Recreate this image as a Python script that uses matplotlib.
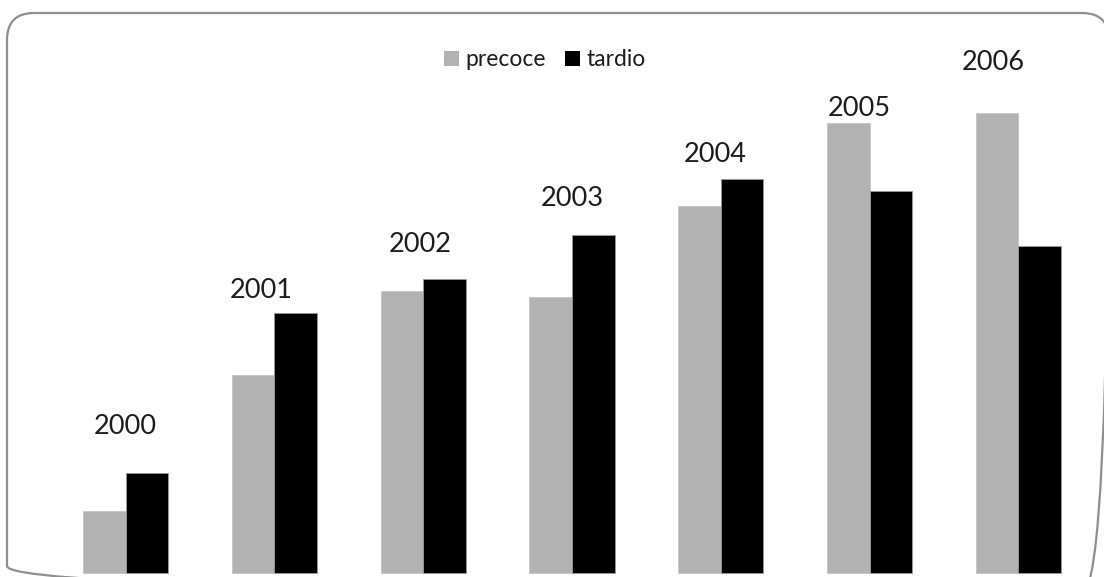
import matplotlib
matplotlib.use("Agg")
import matplotlib.pyplot as plt
from matplotlib.patches import FancyBboxPatch, Patch

# --- data -------------------------------------------------------------
years = ["2000", "2001", "2002", "2003", "2004", "2005", "2006"]
precoce = [62, 198, 282, 276, 367, 450, 460]
tardio = [100, 260, 294, 338, 394, 382, 327]

# --- styling / layout ---------------------------------------------------
W, H, DPI = 1104, 577, 100
GRAY = "#b2b2b2"
BLACK = "#000000"
TEXT = "#1c1c1c"
FONT = ["Lato", "DejaVu Sans"]
bar_w = 0.286

# year label placement (offset from group centre, height in value units)
label_dx = [0.0, -0.09, -0.02, 0.0, -0.04, -0.07, -0.17]
label_y = [147, 282, 329, 374, 419, 465, 511]

plt.rcParams["font.family"] = FONT

fig = plt.figure(figsize=(W / DPI, H / DPI), dpi=DPI)
fig.patch.set_facecolor("white")

ax = fig.add_axes([0, 0, 1, 1])
x = list(range(len(years)))
xp = [i - bar_w / 2 for i in x]
xt = [i + bar_w / 2 for i in x]
ax.bar(xp, precoce, width=bar_w, color=GRAY, edgecolor="#c4c4c4",
       linewidth=0.6, label="precoce", zorder=2)
ax.bar(xt, tardio, width=bar_w, color=BLACK, edgecolor="#9a9a9a",
       linewidth=0.6, label="tardio", zorder=2)

# group centre spacing of ~148.8 px, first group centred at ~125.7 px
step = 148.77
x0 = 125.7
ax.set_xlim(-x0 / step, (W - x0) / step)
ax.set_ylim(-4, H - 4)
ax.axis("off")

for i, yr in enumerate(years):
    ax.text(i + label_dx[i], label_y[i], yr, ha="center", va="center",
            fontsize=19.5, color=TEXT, zorder=3)

handles = [Patch(facecolor=GRAY, edgecolor="none"),
           Patch(facecolor=BLACK, edgecolor="none")]
leg = ax.legend(handles, ["precoce", "tardio"], ncol=2, frameon=False,
                loc="center", bbox_to_anchor=(545 / W, 1 - 60 / H),
                bbox_transform=fig.transFigure, fontsize=16.5,
                handlelength=0.62, handleheight=0.62, handletextpad=0.3,
                columnspacing=0.85, borderaxespad=0, borderpad=0)
for t in leg.get_texts():
    t.set_color(TEXT)

# rounded outer frame drawn in pixel space (right and bottom edges run past the canvas)
frame_ax = fig.add_axes([0, 0, 1, 1], facecolor="none")
frame_ax.set_xlim(0, W)
frame_ax.set_ylim(H, 0)
frame_ax.axis("off")
frame = FancyBboxPatch((7, 13), 1102, 580,
                       boxstyle="round,pad=0,rounding_size=27",
                       facecolor="none", edgecolor="#8e8e8e",
                       linewidth=1.6, zorder=5)
frame_ax.add_patch(frame)

fig.savefig("out.png", dpi=DPI, facecolor="white")
